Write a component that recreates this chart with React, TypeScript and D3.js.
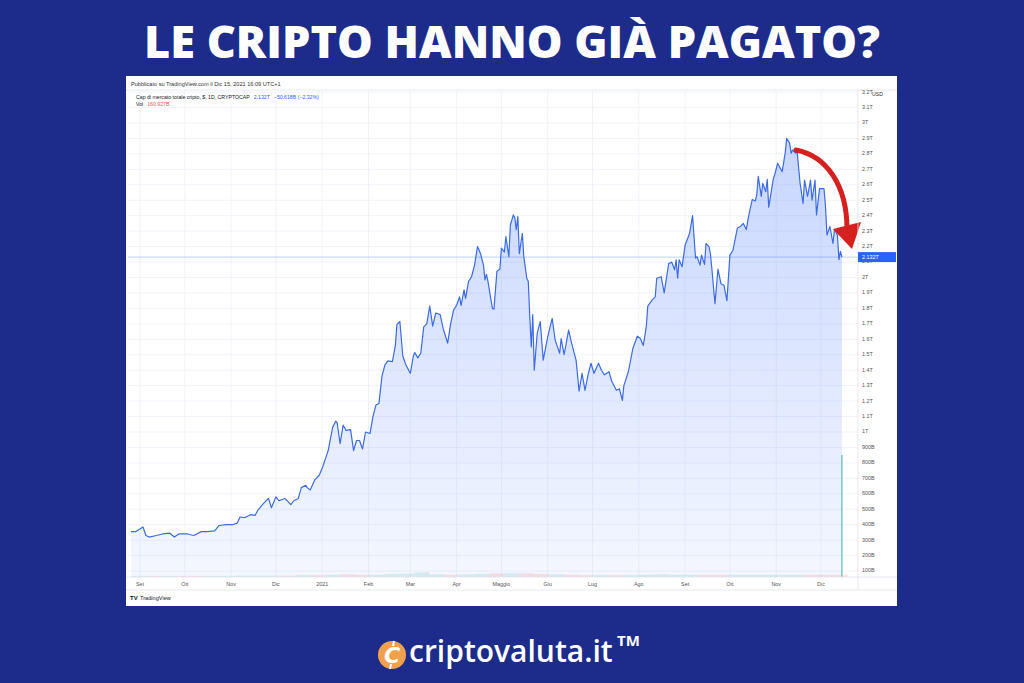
import React from "react";
import * as d3 from "d3";

// ---------- DATA ----------
const startDate = "2020-09-01"; // day 0 of the day offsets below
// days since 2020-09-01
const priceDays = [
  -6, -3, 2, 4, 6, 11, 15, 20, 23, 26, 32, 36, 41, 45, 50, 53, 58, 62, 65, 67, 70, 74, 77, 79, 82, 86, 88, 91, 93, 97,
  101, 103, 106, 108, 111, 112, 114, 117, 120, 122, 125, 126, 129, 131, 132, 134, 136, 138, 141, 143, 145, 147, 149,
  151, 154, 156, 158, 160, 162, 164, 166, 169, 171, 172, 174, 176, 178, 181, 183, 184, 186, 188, 190, 192, 194, 196,
  198, 201, 203, 206, 208, 210, 212, 214, 215, 217, 218, 220, 222, 224, 226, 228, 230, 231, 232, 233, 235, 236, 237,
  239, 241, 242, 244, 245, 247, 248, 250, 251, 252, 253, 254, 256, 257, 259, 260, 261, 262, 263, 264, 266, 268, 270,
  273, 276, 278, 281, 282, 284, 287, 289, 292, 294, 296, 298, 300, 302, 304, 307, 309, 311, 314, 316, 319, 321, 323,
  324, 327, 330, 333, 335, 337, 339, 340, 343, 345, 346, 349, 351, 354, 356, 358, 359, 360, 361, 363, 365, 368, 370,
  372, 373, 375, 376, 378, 379, 381, 382, 383, 385, 387, 389, 391, 393, 395, 397, 400, 402, 404, 406, 407, 408, 410,
  412, 413, 414, 416, 417, 419, 420, 421, 424, 425, 427, 430, 432, 433, 435, 436, 437, 439, 440, 442, 444, 445, 447,
  449, 450, 452, 453, 455, 458, 459, 460, 462, 464, 465, 467, 468, 469, 470,
];
// total crypto market cap, trillions USD
const priceValues = [
  0.355, 0.355, 0.385, 0.33, 0.32, 0.33, 0.34, 0.345, 0.32, 0.34, 0.34, 0.33, 0.355, 0.355, 0.36, 0.395, 0.4, 0.4, 0.41,
  0.45, 0.445, 0.465, 0.46, 0.495, 0.53, 0.57, 0.51, 0.58, 0.555, 0.57,
  0.53, 0.555, 0.57, 0.64, 0.655, 0.64, 0.625, 0.69, 0.72, 0.765, 0.85, 0.88, 1.03, 1.07, 1.06, 0.925, 1.045, 1.01,
  1.015, 0.88, 0.945, 0.945, 0.89,
  1.0, 0.99, 1.1, 1.175, 1.185, 1.36, 1.435, 1.46, 1.455, 1.56, 1.695, 1.715, 1.49, 1.435, 1.38, 1.49, 1.515, 1.48,
  1.51, 1.68, 1.7, 1.815, 1.685,
  1.77, 1.76, 1.67, 1.575, 1.7, 1.79, 1.82, 1.875, 1.82, 1.92, 1.865, 1.975, 2.005, 2.08, 2.2, 2.155, 2.08, 1.985,
  2.02, 1.975, 1.855, 1.8, 1.795,
  2.04, 2.055, 2.19, 2.165, 2.265, 2.135, 2.34, 2.405, 2.385, 2.31, 2.395, 2.155, 2.285, 2.135, 1.995, 1.975, 1.745,
  1.55, 1.76, 1.4, 1.64, 1.715, 1.465,
  1.615, 1.735, 1.595, 1.51, 1.605, 1.5, 1.66, 1.575, 1.465, 1.265, 1.38, 1.27, 1.37, 1.445, 1.38, 1.445, 1.4, 1.37,
  1.39, 1.325, 1.27, 1.28, 1.205,
  1.3, 1.39, 1.54, 1.62, 1.605, 1.56, 1.68, 1.815, 1.855, 1.875, 1.995, 2.005, 1.9, 2.09, 2.1, 2.05, 2.115, 1.995,
  2.115, 2.07, 2.21, 2.285, 2.4,
  2.125, 2.135, 2.08, 2.145, 2.085, 2.22, 2.2, 2.15, 2.05, 1.83, 2.055, 1.96, 1.95, 1.85, 2.145, 2.175, 2.32, 2.33,
  2.35, 2.31, 2.37, 2.42, 2.505,
  2.495, 2.535, 2.655, 2.525, 2.61, 2.555, 2.635, 2.455, 2.635, 2.665, 2.74, 2.685, 2.805, 2.9, 2.87, 2.805, 2.825,
  2.805, 2.815, 2.61, 2.48, 2.63, 2.525,
  2.63, 2.5, 2.63, 2.405, 2.575, 2.575, 2.46, 2.275, 2.33, 2.22, 2.31, 2.275, 2.115, 2.17, 2.132,
];
// volume (billions USD), sampled
const volDays = [
  -6, 4, 14, 24, 34, 44, 54, 64, 74, 84, 94, 104, 114, 124, 134, 144, 154, 164, 174, 184, 194, 204, 214, 224, 234, 244,
  254, 264, 274, 284, 294, 304, 314, 324, 334, 344, 354, 364, 374, 384, 394, 404, 414, 424, 434, 444, 454, 464, 470,
];
const volValues = [
  1.5, 1.5, 1.5, 1.5, 1.5, 1.5, 1.5, 2, 2, 2, 2, 2.5, 2.5, 3, 3.5, 3, 3, 4, 4.5, 6, 3.5, 3, 3.5, 4, 5, 5, 5, 4, 3.5,
  3, 2.5, 2.5, 2.5, 2.5, 3, 3.5, 3, 3, 3, 3, 3, 3, 3, 3, 3, 3, 3, 3, 160.927,
];
const monthLabels = ["Set", "Ott", "Nov", "Dic", "2021", "Feb", "Mar", "Apr", "Maggio", "Giu", "Lug", "Ago", "Set", "Ott", "Nov", "Dic"];
const monthDates = [
  "2020-09-01", "2020-10-01", "2020-11-01", "2020-12-01", "2021-01-01", "2021-02-01", "2021-03-01", "2021-04-01",
  "2021-05-01", "2021-06-01", "2021-07-01", "2021-08-01", "2021-09-01", "2021-10-01", "2021-11-01", "2021-12-01",
];
const yTickValues = [
  0.1, 0.2, 0.3, 0.4, 0.5, 0.6, 0.7, 0.8, 0.9, 1, 1.1, 1.2, 1.3, 1.4, 1.5, 1.6, 1.7, 1.8, 1.9, 2, 2.1, 2.2, 2.3, 2.4,
  2.5, 2.6, 2.7, 2.8, 2.9, 3, 3.1, 3.2,
];
const yTickLabels = [
  "100B", "200B", "300B", "400B", "500B", "600B", "700B", "800B", "900B", "1T", "1.1T", "1.2T", "1.3T", "1.4T", "1.5T",
  "1.6T", "1.7T", "1.8T", "1.9T", "2T", "2.1T", "2.2T", "2.3T", "2.4T", "2.5T", "2.6T", "2.7T", "2.8T", "2.9T", "3T",
  "3.1T", "3.2T",
];
const lastValue = 2.132;
const lastLabel = "2.132T";
const title = "LE CRIPTO HANNO GIÀ PAGATO?";

// ---------- LAYOUT ----------
const W = 1024;
const H = 683;
const panel = { x: 126, y: 76, w: 771, h: 530 };
const plot = { left: 128, right: 858, top: 90, bottom: 577 };

const base = d3.utcParse("%Y-%m-%d")(startDate) as Date;
const toDate = (d: number) => d3.utcDay.offset(base, d);
const parse = d3.utcParse("%Y-%m-%d");

const x = d3
  .scaleUtc()
  .domain([parse("2020-09-01") as Date, parse("2021-12-01") as Date])
  .range([140, 821]);
const y = d3.scaleLinear().domain([1, 3]).range([432, 123]);
const yVol = d3.scaleLinear().domain([0, 160.927]).range([plot.bottom, 455]);

type P = { date: Date; v: number };
const series: P[] = priceDays.map((d, i) => ({ date: toDate(d), v: priceValues[i] }));

const lineGen = d3
  .line<P>()
  .x((p) => x(p.date))
  .y((p) => y(p.v));
const areaGen = d3
  .area<P>()
  .x((p) => x(p.date))
  .y0(plot.bottom)
  .y1((p) => y(p.v));

const priceAt = (day: number) => {
  const i = Math.min(priceDays.length - 1, Math.max(0, d3.bisectLeft(priceDays, day)));
  return priceValues[i];
};

export default function App() {
  const gridCol = "#f0f3fa";
  const lastY = y(lastValue);
  return (
    <svg width={W} height={H} style={{ display: "block", position: "absolute", left: 0, top: 0 }}>
      <defs>
        <linearGradient id="areaGrad" x1="0" y1="0" x2="0" y2="1">
          <stop offset="0%" stopColor="#2962ff" stopOpacity={0.26} />
          <stop offset="100%" stopColor="#2962ff" stopOpacity={0.05} />
        </linearGradient>
        <clipPath id="plotClip">
          <rect x={plot.left} y={plot.top} width={plot.right - plot.left} height={plot.bottom - plot.top} />
        </clipPath>
      </defs>
      <rect x={0} y={0} width={W} height={H} fill="#1d2c8a" />
      <text
        x={512}
        y={58}
        textAnchor="middle"
        fill="#ffffff"
        fontFamily="'Open Sans', sans-serif"
        fontWeight={800}
        fontSize={45}
      >
        {title}
      </text>

      {/* panel */}
      <rect x={panel.x} y={panel.y} width={panel.w} height={panel.h} fill="#ffffff" />
      <text x={131} y={86} fontSize={5.6} fill="#333" fontFamily="Arial, 'Liberation Sans', sans-serif">
        Pubblicato su TradingView.com il Dic 15, 2021 16:09 UTC+1
      </text>
      <line x1={panel.x} x2={panel.x + panel.w} y1={plot.top} y2={plot.top} stroke="#e0e3eb" strokeWidth={0.8} />

      {/* grid */}
      <g>
        {yTickValues.map((v, i) => (
          <line key={"h" + i} x1={plot.left} x2={plot.right} y1={y(v)} y2={y(v)} stroke={gridCol} strokeWidth={1} />
        ))}
        {monthDates.map((d, i) => (
          <line
            key={"v" + i}
            x1={x(parse(d) as Date)}
            x2={x(parse(d) as Date)}
            y1={plot.top}
            y2={plot.bottom}
            stroke={gridCol}
            strokeWidth={1}
          />
        ))}
      </g>

      {/* legend */}
      <g fontFamily="Arial, 'Liberation Sans', sans-serif" fontSize={5.2}>
        <text x={136} y={99} fill="#131722">
          Cap di mercato totale cripto, $, 1D, CRYPTOCAP
          <tspan fill="#2962ff" dx={4}>2.132T</tspan>
          <tspan fill="#2962ff" dx={4}>−50.618B (−2.32%)</tspan>
        </text>
        <text x={136} y={106} fill="#131722">
          Vol<tspan fill="#ef5350" dx={4}>160.927B</tspan>
        </text>
      </g>

      {/* volume */}
      <g clipPath="url(#plotClip)">
        {volDays.map((d, i) => {
          const isLast = i === volDays.length - 1;
          const x0 = x(toDate(d));
          const w = isLast ? 1.6 : x(toDate(d + 10)) - x0;
          const up = priceAt(d) >= priceAt(d - 5);
          return (
            <rect
              key={"vol" + i}
              x={isLast ? x0 - 0.8 : x0}
              y={yVol(volValues[i])}
              width={w}
              height={plot.bottom - yVol(volValues[i])}
              fill={isLast ? "#7fd3c6" : up ? "#26a69a" : "#ef5350"}
              opacity={isLast ? 1 : 0.16}
            />
          );
        })}
      </g>

      {/* area + line */}
      <g clipPath="url(#plotClip)">
        <path d={areaGen(series) || ""} fill="url(#areaGrad)" />
        <line x1={plot.left} x2={plot.right} y1={lastY} y2={lastY} stroke="#2962ff" strokeOpacity={0.3} strokeWidth={1} />
        <path d={lineGen(series) || ""} fill="none" stroke="#3c6be3" strokeWidth={1.2} strokeLinejoin="round" />
      </g>

      {/* red arrow */}
      <g>
        <path d="M796,150 C827,156 847,186 847,229" fill="none" stroke="#d61f1f" strokeWidth={5} strokeLinecap="round" />
        <polygon points="833,229 861,222 852,249" fill="#d61f1f" />
      </g>

      {/* right axis */}
      <line x1={plot.right} x2={plot.right} y1={plot.top} y2={590} stroke="#e0e3eb" strokeWidth={0.8} />
      <line x1={panel.x} x2={panel.x + panel.w} y1={plot.bottom} y2={plot.bottom} stroke="#e0e3eb" strokeWidth={0.8} />
      <line x1={panel.x} x2={panel.x + panel.w} y1={590} y2={590} stroke="#e0e3eb" strokeWidth={0.8} />
      <g fontFamily="Arial, 'Liberation Sans', sans-serif" fontSize={5.4} fill="#555">
        {yTickValues.map((v, i) => (
          <text key={"yl" + i} x={862} y={y(v)} dominantBaseline="middle">
            {yTickLabels[i]}
          </text>
        ))}
        <text x={872} y={96} fill="#333" fontSize={5.2}>
          USD
        </text>
      </g>
      <rect x={plot.right} y={lastY - 5} width={38} height={10} fill="#2962ff" />
      <text
        x={862}
        y={lastY}
        dominantBaseline="middle"
        fill="#ffffff"
        fontSize={5.4}
        fontFamily="Arial, 'Liberation Sans', sans-serif"
      >
        {lastLabel}
      </text>

      {/* x axis labels */}
      <g fontFamily="Arial, 'Liberation Sans', sans-serif" fontSize={5.4} fill="#555">
        {monthDates.map((d, i) => (
          <text key={"xl" + i} x={x(parse(d) as Date)} y={586} textAnchor="middle">
            {monthLabels[i]}
          </text>
        ))}
      </g>

      {/* TradingView mark */}
      <g fontFamily="Arial, 'Liberation Sans', sans-serif">
        <text x={130} y={600} fontSize={6} fontWeight={700} fill="#131722">
          TV
        </text>
        <text x={140} y={600} fontSize={5.6} fill="#131722">
          TradingView
        </text>
      </g>

      {/* footer logo */}
      <g>
        <circle cx={392} cy={655} r={14} fill="#f2a04b" />
        <text
          x={392}
          y={663}
          textAnchor="middle"
          fill="#ffffff"
          fontFamily="'DejaVu Sans', sans-serif"
          fontWeight={700}
          fontStyle="italic"
          fontSize={22}
        >
          C
        </text>
        <line x1={394} x2={393} y1={641} y2={646} stroke="#fff" strokeWidth={2} />
        <line x1={391} x2={390} y1={664} y2={669} stroke="#fff" strokeWidth={2} />
        <text
          x={409}
          y={662}
          fill="#ffffff"
          fontFamily="'Open Sans', sans-serif"
          fontWeight={600}
          fontSize={30}
        >
          criptovaluta.it
        </text>
        <text x={617} y={646} fill="#ffffff" fontFamily="'Open Sans', sans-serif" fontWeight={700} fontSize={15}>
          TM
        </text>
      </g>
    </svg>
  );
}
